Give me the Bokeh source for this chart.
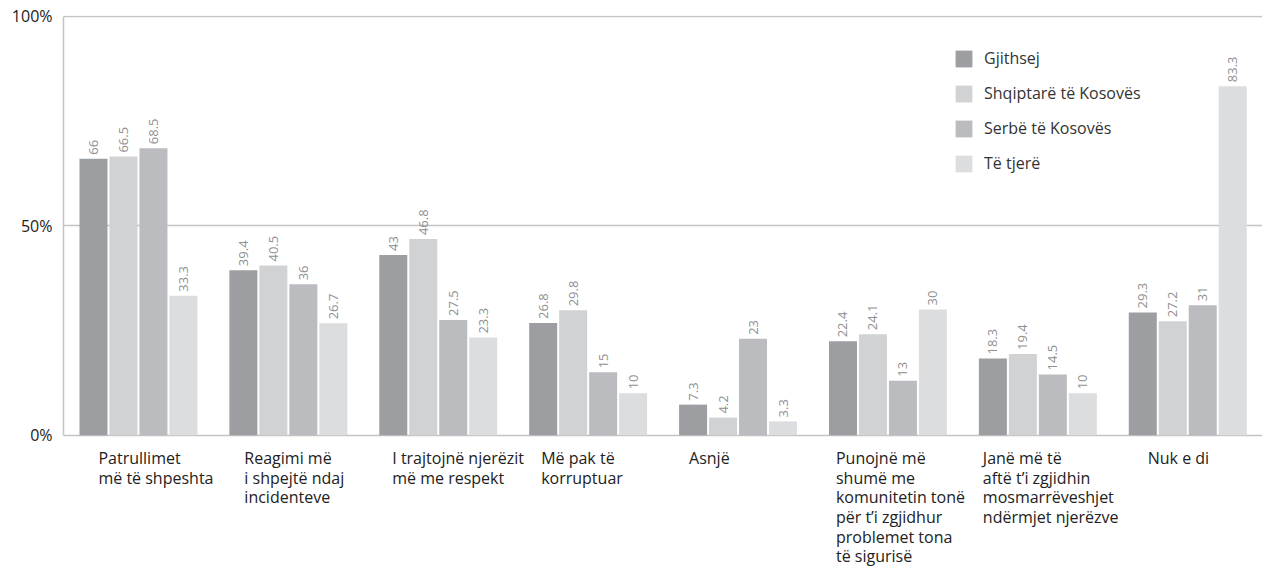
import math
from bokeh.plotting import figure
from bokeh.models import (Range1d, FixedTicker, Legend, LegendItem,
                          ColumnDataSource)
from bokeh.core.properties import value
from bokeh.embed import file_html
from bokeh.resources import INLINE

# ---- data ----
category_lines = [
    ["Patrullimet", "më të shpeshta"],
    ["Reagimi më", "i shpejtë ndaj", "incidenteve"],
    ["I trajtojnë njerëzit", "më me respekt"],
    ["Më pak të", "korruptuar"],
    ["Asnjë"],
    ["Punojnë më", "shumë me", "komunitetin tonë", "për t’i zgjidhur",
     "problemet tona", "të sigurisë"],
    ["Janë më të", "aftë t’i zgjidhin", "mosmarrëveshjet", "ndërmjet njerëzve"],
    ["Nuk e di"],
]
series_names = ["Gjithsej", "Shqiptarë të Kosovës", "Serbë të Kosovës", "Të tjerë"]
gjithsej = [66, 39.4, 43, 26.8, 7.3, 22.4, 18.3, 29.3]
shqiptare = [66.5, 40.5, 46.8, 29.8, 4.2, 24.1, 19.4, 27.2]
serbe = [68.5, 36, 27.5, 15, 23, 13, 14.5, 31]
tjere = [33.3, 26.7, 23.3, 10, 3.3, 30, 10, 83.3]
y_ticks = [0, 50, 100]
y_tick_labels = {0: "0%", 50: "50%", 100: "100%"}

series_values = [gjithsej, shqiptare, serbe, tjere]
colors = ["#9d9ea2", "#d1d2d4", "#bbbcbf", "#dcdddf"]

# ---- layout ----
FONT = "Open Sans"
W, H = 1262, 571
TOP, LEFT = 15, 63
PX = 4.19                       # px per percent
Y_END = 100.17
Y_START = Y_END - (H - TOP) / PX
GROUP_PX = 149.9                # px per category
offsets = [-0.3, -0.1, 0.1, 0.3]
bar_w = 28 / GROUP_PX

p = figure(width=W, height=H, output_backend="svg", toolbar_location=None,
           x_range=Range1d(-0.5, -0.5 + (W - LEFT) / GROUP_PX),
           y_range=Range1d(Y_START, Y_END),
           min_border_top=TOP, min_border_left=LEFT, min_border_right=0,
           min_border_bottom=0)
p.outline_line_color = None
p.background_fill_color = "white"
p.xaxis.visible = False
p.xgrid.visible = False

yax = p.yaxis[0]
yax.ticker = FixedTicker(ticks=y_ticks)
yax.bounds = (0, 100)
yax.major_label_overrides = y_tick_labels
yax.major_tick_line_color = None
yax.minor_tick_line_color = None
yax.major_tick_out = 0
yax.major_tick_in = 0
yax.major_label_standoff = 11
yax.axis_line_color = "#c4c4c4"
yax.axis_line_width = 1.5
yax.major_label_text_font = FONT
yax.major_label_text_font_size = "16px"
yax.major_label_text_color = "#222222"

p.ygrid.ticker = FixedTicker(ticks=y_ticks)
p.ygrid.grid_line_color = "#c4c4c4"
p.ygrid.grid_line_width = 1.5

items = []
n = len(category_lines)
for j, (name, vals, col) in enumerate(zip(series_names, series_values, colors)):
    xs = [i + offsets[j] for i in range(n)]
    src = ColumnDataSource(dict(x=xs, top=vals, lab=[f"{v:g}" for v in vals]))
    r = p.vbar(x="x", top="top", width=bar_w, bottom=0, source=src,
               fill_color=col, line_color=None)
    p.text(x="x", y="top", text="lab", source=src, angle=math.pi / 2,
           text_align="left", text_baseline="middle", y_offset=-4,
           text_font=value(FONT), text_font_size="13px", text_color="#8e8f92")
    items.append(LegendItem(label=name, renderers=[r]))

legend = Legend(items=items, location=(890, 397), orientation="vertical",
                glyph_width=21, glyph_height=21, label_standoff=10, spacing=13,
                padding=0, margin=0, border_line_color=None,
                background_fill_alpha=0, label_text_font=FONT,
                label_text_font_size="16px", label_text_color="#333333")
p.add_layout(legend, "center")

# category labels (left-aligned blocks under each group), one text per line
label_dx = [-40, -44, -46, -47, -49, -52, -55, -40]
first_baseline = 23.0   # px below the 0% line
line_h = 19.6
lx, ly, lt = [], [], []
for i, lines in enumerate(category_lines):
    for k, line in enumerate(lines):
        lx.append(i + label_dx[i] / GROUP_PX)
        ly.append(-(first_baseline + k * line_h) / PX)
        lt.append(line)
p.text(x=lx, y=ly, text=lt, text_align="left", text_baseline="alphabetic",
       text_font=value(FONT), text_font_size="16px", text_color="#222222")

open("out.html", "w").write(file_html(p, INLINE))
